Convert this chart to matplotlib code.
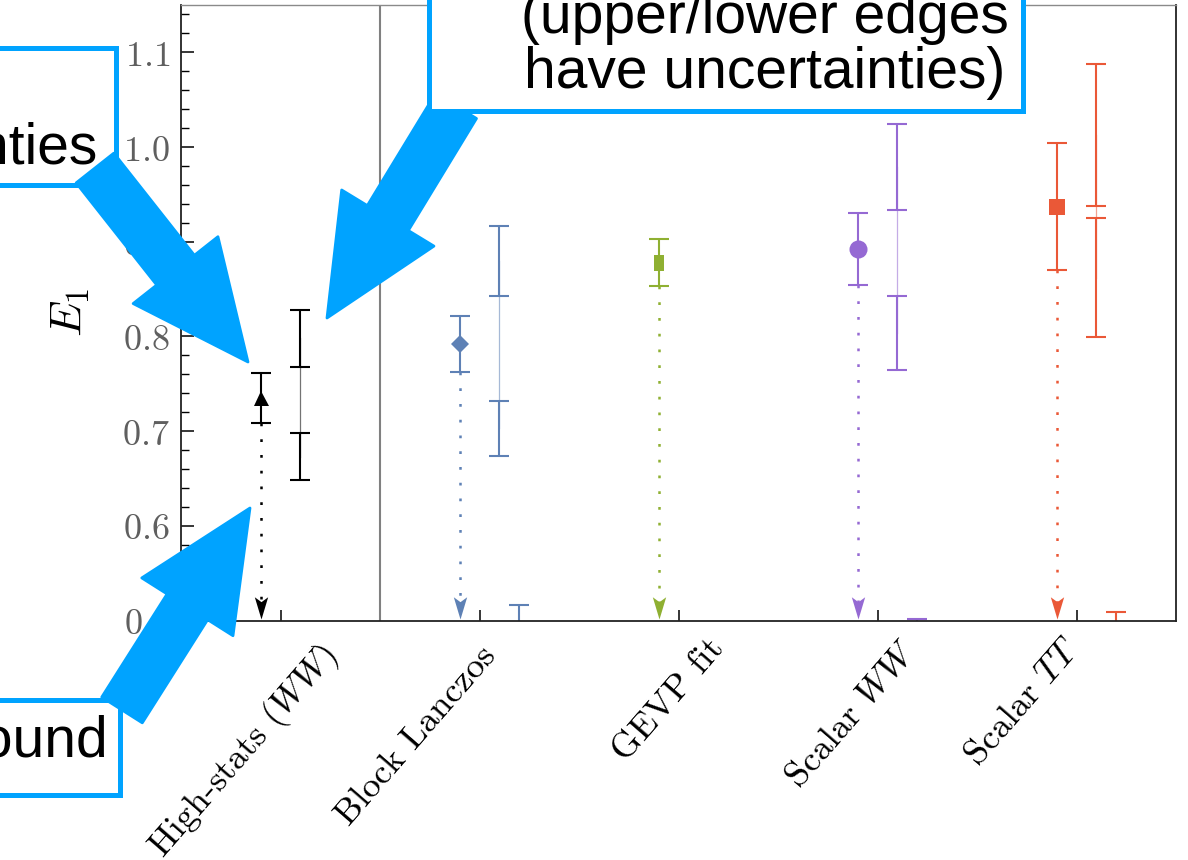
import numpy as np
import matplotlib
matplotlib.use("Agg")
import matplotlib.pyplot as plt
from matplotlib.patches import Rectangle, FancyArrow
from matplotlib.ticker import MultipleLocator
from matplotlib.transforms import ScaledTranslation

plt.rcParams['mathtext.fontset'] = 'cm'
plt.rcParams['axes.formatter.use_mathtext'] = True

# E_1 estimates for each method
methods = ["High-stats $(WW)$", "Block Lanczos", "GEVP fit", "Scalar $WW$", "Scalar $TT$"]
colors = ["#000000", "#5E81B5", "#8FB032", "#9569D3", "#EA5837"]
e1_val = [0.735, 0.792, 0.878, 0.892, 0.937]
e1_err = [0.026, 0.030, 0.025, 0.038, 0.067]

# bound ranges: upper and lower edges, each with its own uncertainty
upper_val = [0.798, 0.880, np.nan, 0.979, 1.013]
upper_err = [0.030, 0.037, np.nan, 0.045, 0.075]
lower_val = [0.673, 0.703, np.nan, 0.804, 0.862]
lower_err = [0.025, 0.029, np.nan, 0.039, 0.063]

# lowest bound, mostly below the plotted window
floor_val = [np.nan, 0.480, np.nan, 0.480, 0.480]
floor_err = [np.nan, 0.036, np.nan, 0.022, 0.029]

yticks = [0.5, 0.6, 0.7, 0.8, 0.9, 1.0, 1.1]
ylo, yhi = 0.5, 1.15

rect = [(-2, -3), (2, -3), (2, 3), (-2, 3), (-2, -3)]
markers = ['^', 'D', rect, 'o', 's']
msizes = [10.8, 9.2, 11.3, 13, 11.5]
head = [(0, 0), (-0.3, 1), (0, 0.78), (0.3, 1), (0, 0)]

fig = plt.figure(figsize=(11.88, 8.6), dpi=100)
ax = fig.add_axes([181/1188, 1 - 620.6/860, 995/1188, 615.6/860])

xs = np.arange(len(methods))
eb = dict(elinewidth=1.5, capsize=7.2, capthick=1.5)
for i, c in enumerate(colors):
    x = xs[i]
    # central value with arrow down to the floor
    ax.plot([x - 0.1, x - 0.1], [e1_val[i] - e1_err[i], ylo + 0.018],
            ls=(0, (1.1, 5.2)), lw=1.8, color=c)
    ax.plot(x - 0.1, ylo + 0.0015, marker=head, ms=32, mew=0, color=c, ls='none')
    ax.errorbar(x - 0.1, e1_val[i], yerr=e1_err[i], fmt='none', ecolor=c, **eb)
    ax.plot(x - 0.1, e1_val[i], marker=markers[i], ms=msizes[i], mew=0, color=c, ls='none')
    if not np.isnan(upper_val[i]):
        ax.plot([x + 0.1, x + 0.1], [lower_val[i], upper_val[i]], lw=0.9, color=c, alpha=0.55)
        ax.errorbar([x + 0.1] * 2, [upper_val[i], lower_val[i]],
                    yerr=[upper_err[i], lower_err[i]], fmt='none', ecolor=c, **eb)
    if not np.isnan(floor_val[i]):
        ax.errorbar(x + 0.2, floor_val[i], yerr=floor_err[i], fmt='none', ecolor=c, **eb)

ax.axvline(0.5, color='#808080', lw=1.5)
ax.set_xlim(-0.5, 4.5)
ax.set_ylim(ylo, yhi)

ax.set_yticks(yticks)
ax.set_yticklabels([f'${v:.1f}$' for v in yticks])
ax.yaxis.set_minor_locator(MultipleLocator(0.02))
ax.tick_params(axis='y', which='major', direction='in', length=9.5, width=1.1,
               labelsize=26, labelcolor='#5f5f5f', pad=8)
ax.tick_params(axis='y', which='minor', direction='in', length=5.5, width=1.0)
ax.tick_params(axis='x', direction='in', length=8, width=1.1, pad=0)
ax.set_xticks(xs)
ax.set_xticklabels(methods, rotation=49, ha='right', va='center', rotation_mode='anchor',
                   fontsize=26, family=['cmr10', 'DejaVu Serif'])
label_dx = [52, 11, 40, 35, -2]
label_dy = [30, 30, 22, 26, 23]
for lab, dx, dy in zip(ax.get_xticklabels(), label_dx, label_dy):
    lab.set_transform(lab.get_transform() + ScaledTranslation(dx / 100, -dy / 100, fig.dpi_scale_trans))

ax.set_ylabel('$E_1$', fontsize=33, rotation=90)
ax.yaxis.set_label_coords(-0.089, 0.5)

for side in ['left', 'bottom', 'right']:
    ax.spines[side].set_color('#222222')
    ax.spines[side].set_linewidth(1.3)
ax.spines['top'].set_color('#8a8a8a')
ax.spines['top'].set_linewidth(1.0)

# callouts drawn in pixel coordinates on top of the chart
ov = fig.add_axes([0, 0, 1, 1])
ov.set_xlim(0, 1188)
ov.set_ylim(860, 0)
ov.axis('off')

blue = '#00A3FF'
txt = dict(fontsize=41, family='Liberation Sans', color='black', va='baseline', zorder=3)


def callout(x0, y0, x1, y1, z=1):
    ov.add_patch(Rectangle((x0, y0), x1 - x0, y1 - y0, facecolor='white',
                           edgecolor=blue, lw=3.6, zorder=z))


def arrow(tail, tip, z=2):
    ov.add_patch(FancyArrow(tail[0], tail[1], tip[0] - tail[0], tip[1] - tail[1],
                            width=48, head_width=108, head_length=117,
                            length_includes_head=True, facecolor=blue, edgecolor=blue,
                            lw=2, joinstyle='round', zorder=z))


callout(-10, 47.5, 115.5, 184.5)
ov.text(-123, 108, 'Estimate', ha='center', **txt)
ov.text(-123, 163, 'with uncertainties', ha='center', **txt)
arrow((95, 168), (248, 362))

callout(428.5, -10, 1022.5, 110.5, z=2)
for k, line in enumerate(['Bound range', '(upper/lower edges', 'have uncertainties)']):
    ov.text(765, 88 - (2 - k) * 55, line, ha='center', **txt)
arrow((456, 106), (327, 318), z=1)

callout(-10, 699.5, 119.5, 794.5)
ov.text(108, 757, 'Upper bound', ha='right', **txt)
arrow((122, 710), (250, 508))

fig.savefig('out.png', dpi=100)
